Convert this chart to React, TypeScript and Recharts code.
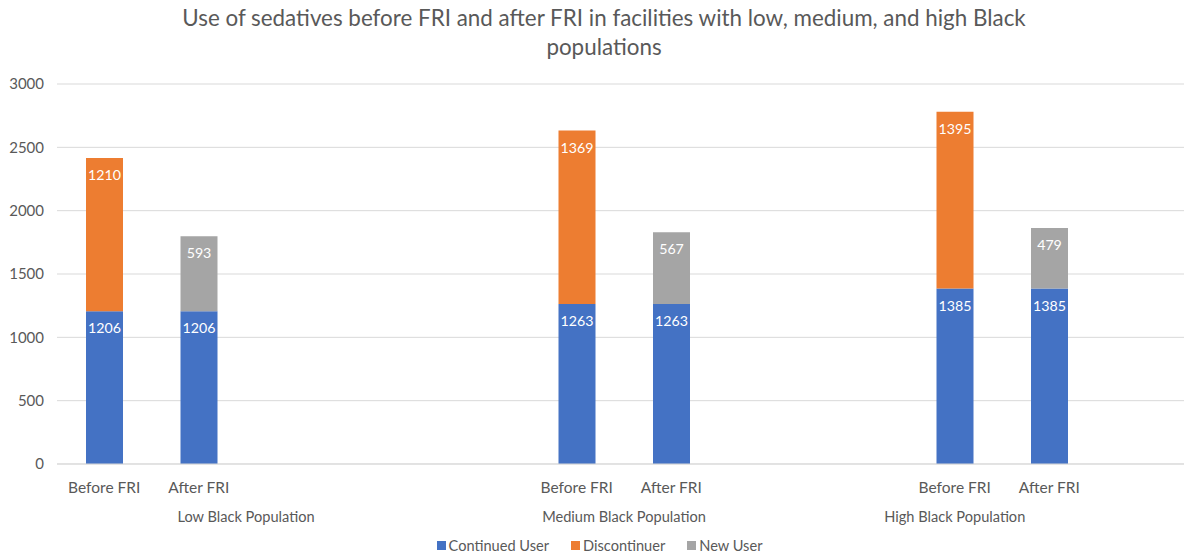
import React from "react";
import {
  BarChart,
  Bar,
  XAxis,
  YAxis,
  CartesianGrid,
  Legend,
  LabelList,
} from "recharts";

const TITLE_LINES = [
  "Use of sedatives before FRI and after FRI in facilities with low, medium, and high Black",
  "populations",
];

// slot labels (blank slots keep the gaps between groups)
const SLOT_LABELS = [
  "Before FRI", "After FRI", "", "",
  "", "Before FRI", "After FRI", "",
  "", "Before FRI", "After FRI",
  "",
];
const CONTINUED = [1206, 1206, null, null, null, 1263, 1263, null, null, 1385, 1385, null];
const DISCONTINUER = [1210, null, null, null, null, 1369, null, null, null, 1395, null, null];
const NEW_USER = [null, 593, null, null, null, null, 567, null, null, null, 479, null];

const GROUPS = [
  { label: "Low Black Population", start: 0, count: 4 },
  { label: "Medium Black Population", start: 4, count: 4 },
  { label: "High Black Population", start: 8, count: 3 },
];

const Y_TICKS = [0, 500, 1000, 1500, 2000, 2500, 3000];

const SERIES = [
  { key: "continued", name: "Continued User", color: "#4472C4" },
  { key: "discontinuer", name: "Discontinuer", color: "#ED7D31" },
  { key: "newUser", name: "New User", color: "#A5A5A5" },
];

const data = SLOT_LABELS.map((label, i) => ({
  slot: String(i),
  label,
  continued: CONTINUED[i],
  discontinuer: DISCONTINUER[i],
  newUser: NEW_USER[i],
}));

const W = 1191;
const H = 558;
const Y_AXIS_W = 57;
const BAND = (W - Y_AXIS_W) / SLOT_LABELS.length;
const FONT = "Lato, 'Noto Sans', sans-serif";
const TEXT = "#595959";

const CategoryTick = (props: any) => {
  const { x, y, payload } = props;
  const i = Number(payload.value);
  const group = GROUPS.find((g) => g.start === i);
  return (
    <g>
      <text
        x={x}
        y={y}
        dy={27}
        textAnchor="middle"
        fill={TEXT}
        fontSize={15.5}
        fontFamily={FONT}
      >
        {SLOT_LABELS[i]}
      </text>
      {group && (
        <text
          x={x + ((group.count - 1) / 2) * BAND}
          y={y}
          dy={56}
          textAnchor="middle"
          fill={TEXT}
          fontSize={14.6}
          fontFamily={FONT}
        >
          {group.label}
        </text>
      )}
    </g>
  );
};

const LegendContent = () => (
  <div
    style={{
      display: "flex",
      justifyContent: "center",
      gap: 22,
      fontFamily: FONT,
      fontSize: 14.6,
      color: TEXT,
      paddingTop: 13,
      height: 30,
      boxSizing: "border-box",
      paddingLeft: 8,
    }}
  >
    {SERIES.map((s) => (
      <span key={s.key} style={{ display: "flex", alignItems: "center" }}>
        <span
          style={{
            display: "inline-block",
            width: 9,
            height: 9,
            background: s.color,
            marginRight: 3,
          }}
        />
        {s.name}
      </span>
    ))}
  </div>
);

const valueText = (v: any) => (v == null ? "" : v);

export default function App() {
  return (
    <div
      style={{
        position: "absolute",
        left: 0,
        top: 0,
        width: 1184,
        height: H,
        overflow: "hidden",
        background: "#fff",
      }}
    >
      <div
        style={{
          position: "absolute",
          left: 0,
          top: 3,
          width: 1208,
          textAlign: "center",
          fontFamily: FONT,
          fontSize: 22.4,
          lineHeight: "29px",
          color: TEXT,
        }}
      >
        {TITLE_LINES.map((t) => (
          <div key={t}>{t}</div>
        ))}
      </div>
      <BarChart
        width={W}
        height={H}
        data={data}
        margin={{ top: 84, right: 0, left: 0, bottom: 4 }}
      >
        <CartesianGrid vertical={false} stroke="#D9D9D9" />
        <XAxis
          dataKey="slot"
          interval={0}
          height={60}
          tickLine={false}
          tickSize={0}
          axisLine={{ stroke: "#D9D9D9" }}
          tick={<CategoryTick />}
        />
        <YAxis
          width={Y_AXIS_W}
          domain={[0, 3000]}
          ticks={Y_TICKS}
          axisLine={false}
          tickLine={false}
          tickMargin={7}
          tick={{ fill: TEXT, fontSize: 15, fontFamily: FONT }}
        />
        <Legend verticalAlign="bottom" height={30} content={<LegendContent />} />
        {SERIES.map((s) => (
          <Bar
            key={s.key}
            dataKey={s.key}
            name={s.name}
            stackId="a"
            fill={s.color}
            barSize={37}
            isAnimationActive={false}
          >
            <LabelList
              dataKey={s.key}
              position="insideTop"
              offset={12}
              fill="#fff"
              fontSize={14.2}
              fontFamily={FONT}
              formatter={valueText}
            />
          </Bar>
        ))}
      </BarChart>
    </div>
  );
}
